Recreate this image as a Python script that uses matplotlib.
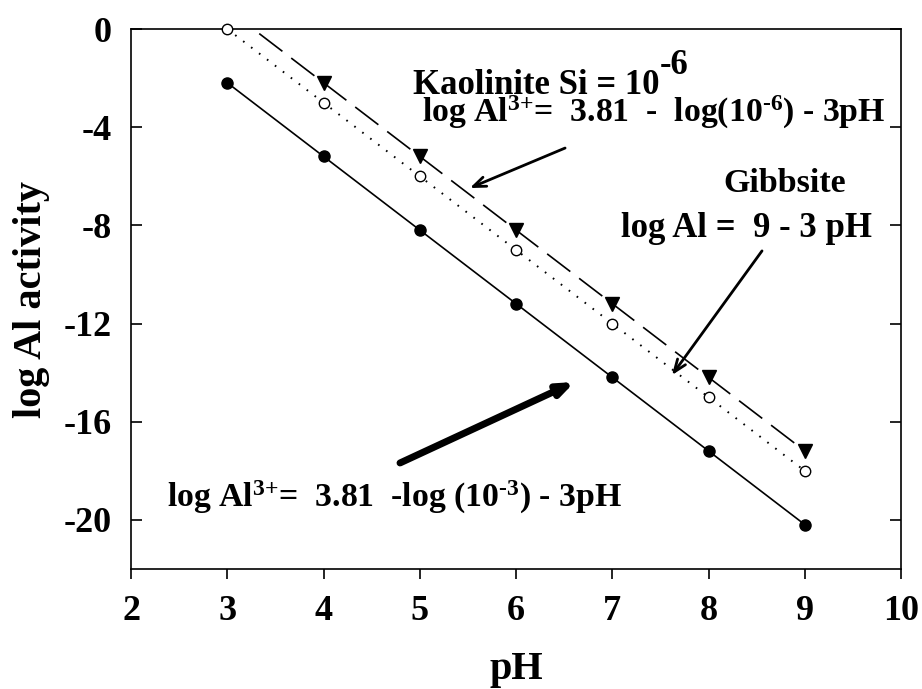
import matplotlib
matplotlib.use("Agg")
import matplotlib.pyplot as plt
import numpy as np

plt.rcParams['font.family'] = ['Liberation Serif', 'DejaVu Serif']
plt.rcParams['font.weight'] = 'bold'
plt.rcParams['mathtext.fontset'] = 'custom'
plt.rcParams['mathtext.rm'] = 'Liberation Serif:bold'
plt.rcParams['mathtext.bf'] = 'Liberation Serif:bold'
plt.rcParams['mathtext.it'] = 'Liberation Serif:bold'
plt.rcParams['mathtext.default'] = 'rm'
plt.rcParams['lines.scale_dashes'] = False

# Data
ph = [3, 4, 5, 6, 7, 8, 9]
kaol_1e3 = [-2.19, -5.19, -8.19, -11.19, -14.19, -17.19, -20.19]   # filled circles, solid
gibbsite = [0, -3, -6, -9, -12, -15, -18]                          # open circles, dotted
kaol_1e6 = [0.81, -2.19, -5.19, -8.19, -11.19, -14.19, -17.19]     # triangles, dashed

x_ticks = [2, 3, 4, 5, 6, 7, 8, 9, 10]
y_ticks = [0, -4, -8, -12, -16, -20]

fig = plt.figure(figsize=(9.22, 6.89), dpi=100)
ax = fig.add_axes([131/922, 1-569/689, (901-131)/922, (569-29)/689])

ax.plot(ph, kaol_1e3, color='black', lw=1.2, marker='o', ms=8,
        mfc='black', mec='black', clip_on=False, zorder=3)
ax.plot(ph, gibbsite, color='black', lw=1.4, linestyle=(0, (1.2, 6)),
        marker='o', ms=7.5, mfc='white', mec='black', mew=1.0, clip_on=False, zorder=3)
# dashed line (clipped at top), triangles only within axes
ax.plot(ph, kaol_1e6, color='black', lw=1.2, linestyle=(0, (21, 8)), zorder=2)
ax.plot(ph[1:], kaol_1e6[1:], linestyle='none', marker='v', ms=10,
        mfc='black', mec='black', clip_on=False, zorder=3)

ax.set_xlim(2, 10)
ax.set_ylim(-22, 0)
ax.set_xticks(x_ticks)
ax.set_yticks(y_ticks)
ax.set_xticklabels([str(v) for v in x_ticks])
ax.set_yticklabels([str(v) for v in y_ticks])
ax.tick_params(axis='x', direction='out', length=7, width=1.2, labelsize=26, pad=12)
ax.tick_params(axis='y', direction='in', length=8, width=1.2, labelsize=26, pad=14,
               right=True)
for s in ax.spines.values():
    s.set_linewidth(1.2)

ax.set_xlabel('pH', fontsize=29, fontweight='bold', labelpad=16)
ax.set_ylabel('log Al activity', fontsize=29, fontweight='bold', labelpad=10)

H = '\u2010'
# Annotations
tk = ax.text(4.93, -2.65, 'Kaolinite Si = 10', fontsize=25, fontweight='bold',
             ha='left', va='baseline')
ax.annotate(H + '6', xy=(1.0, 0.0), xycoords=tk, xytext=(0, 20), textcoords='offset points',
            fontsize=25, fontweight='bold', ha='left', va='baseline')
ax.text(5.02, -3.79, r'log Al$^{3{+}}$=  3.81  -  log(10$^{' + H + r'6}$) - 3pH', fontsize=24.3,
        fontweight='bold', ha='left', va='baseline')
ax.text(8.795, -6.64, 'Gibbsite', fontsize=24.5, fontweight='bold', ha='center', va='baseline')
ax.text(8.39, -8.47, 'log Al =  9 - 3 pH', fontsize=25, fontweight='bold',
        ha='center', va='baseline')
ax.text(2.374, -19.47, r'log Al$^{3{+}}$=  3.81  -log (10$^{' + H + r'3}$) - 3pH', fontsize=24.3,
        fontweight='bold', ha='left', va='baseline')

ax.annotate('', xy=(5.52, -6.48), xytext=(6.51, -4.85),
            arrowprops=dict(arrowstyle='->,head_length=0.9,head_width=0.35', lw=2.0,
                            color='black', shrinkA=0, shrinkB=0))
ax.annotate('', xy=(7.62, -14.10), xytext=(8.556, -9.04),
            arrowprops=dict(arrowstyle='->,head_length=0.9,head_width=0.35', lw=2.0,
                            color='black', shrinkA=0, shrinkB=0))
ax.annotate('', xy=(6.61, -14.38), xytext=(4.795, -17.68),
            arrowprops=dict(arrowstyle='-|>,head_length=0.9,head_width=0.35', lw=5.0,
                            color='black', shrinkA=0, shrinkB=0))

fig.savefig('out.png', dpi=100)
